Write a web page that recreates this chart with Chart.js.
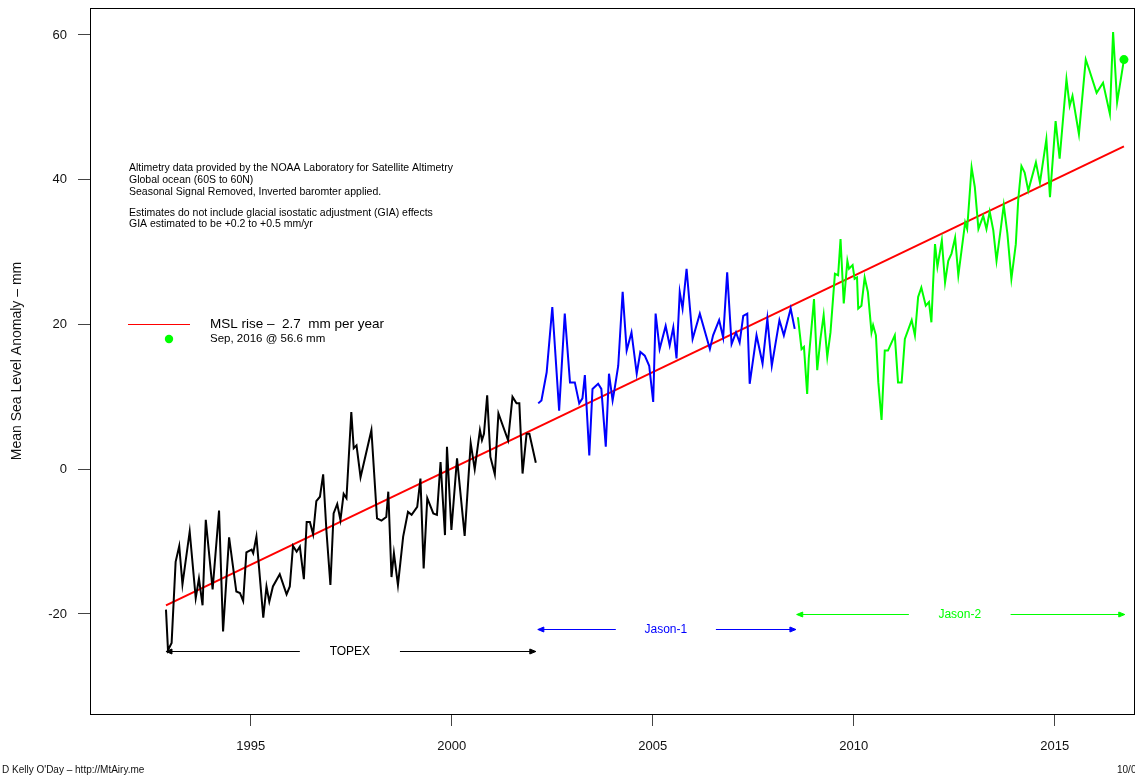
<!DOCTYPE html>
<html>
<head>
<meta charset="utf-8">
<script src="https://cdn.jsdelivr.net/npm/chart.js@4/dist/chart.umd.min.js"></script>
<style>
  html, body { margin: 0; padding: 0; background: #fff; }
  #wrap { position: relative; width: 1135px; height: 781px; overflow: hidden; }
</style>
</head>
<body>
<div id="wrap"><canvas id="mslChart" width="1135" height="781"></canvas></div>
<script>
// TOPEX (1993 - 2002)
const topexYears = [1992.89, 1992.94, 1993.03, 1993.13, 1993.22, 1993.30, 1993.48, 1993.63, 1993.71, 1993.80,
  1993.88, 1994.05, 1994.21, 1994.31, 1994.46, 1994.64, 1994.73, 1994.81, 1994.89, 1995.02,
  1995.06, 1995.14, 1995.31, 1995.39, 1995.46, 1995.55, 1995.72, 1995.89, 1995.97, 1996.05,
  1996.14, 1996.22, 1996.32, 1996.39, 1996.47, 1996.55, 1996.63, 1996.72, 1996.80, 1996.88,
  1996.98, 1997.06, 1997.15, 1997.23, 1997.31, 1997.38, 1997.50, 1997.56, 1997.63, 1997.73,
  1998.00, 1998.14, 1998.25, 1998.37, 1998.42, 1998.50, 1998.56, 1998.66, 1998.79, 1998.91,
  1999.00, 1999.14, 1999.22, 1999.30, 1999.39, 1999.54, 1999.63, 1999.72, 1999.83, 1999.88,
  1999.99, 2000.13, 2000.32, 2000.47, 2000.57, 2000.70, 2000.75, 2000.80, 2000.88, 2000.96,
  2001.07, 2001.16, 2001.40, 2001.51, 2001.61, 2001.68, 2001.76, 2001.86, 2001.93, 2002.09];
const topexMm = [-19.4, -25.0, -24.0, -12.8, -10.6, -15.9, -8.6, -17.8, -15.1, -18.8,
  -7.0, -16.6, -5.7, -22.4, -9.4, -16.9, -17.1, -18.2, -11.5, -11.1,
  -11.6, -9.3, -20.5, -16.2, -18.3, -16.2, -14.5, -17.3, -16.2, -10.6,
  -11.4, -10.7, -15.2, -7.3, -7.3, -9.0, -4.4, -3.8, -0.7, -8.4,
  -16.0, -6.1, -4.8, -7.0, -3.4, -4.0, 7.9, 2.9, 3.3, -1.1,
  5.4, -6.8, -7.1, -6.6, -3.1, -14.9, -11.6, -16.0, -9.3, -5.9,
  -6.3, -5.2, -1.3, -13.7, -4.0, -6.1, -6.3, 1.0, -9.1, 3.1,
  -8.4, 1.5, -9.2, 3.6, 0.0, 5.4, 4.0, 4.9, 10.2, 1.7,
  -0.7, 7.7, 4.0, 10.0, 9.1, 9.1, -0.6, 4.9, 4.9, 0.9];

// Jason-1 (2002 - 2008)
const jason1Years = [2002.15, 2002.23, 2002.36, 2002.50, 2002.67, 2002.81, 2002.94, 2003.06, 2003.17, 2003.25,
  2003.31, 2003.42, 2003.50, 2003.64, 2003.72, 2003.83, 2003.91, 2004.00, 2004.05, 2004.14,
  2004.25, 2004.35, 2004.47, 2004.60, 2004.69, 2004.80, 2004.91, 2005.01, 2005.07, 2005.17,
  2005.32, 2005.42, 2005.51, 2005.59, 2005.67, 2005.74, 2005.84, 2005.99, 2006.17, 2006.42,
  2006.50, 2006.65, 2006.75, 2006.85, 2006.96, 2007.07, 2007.16, 2007.25, 2007.35, 2007.41,
  2007.58, 2007.73, 2007.85, 2007.96, 2008.15, 2008.26, 2008.43, 2008.53];
const jason1Mm = [9.1, 9.5, 13.4, 22.4, 8.1, 21.5, 12.0, 12.0, 9.1, 9.8,
  13.0, 1.9, 11.1, 11.8, 11.1, 3.1, 13.2, 9.5, 11.1, 14.3,
  24.5, 16.4, 18.9, 13.2, 16.2, 15.7, 14.3, 9.3, 21.5, 16.6,
  19.8, 17.1, 19.6, 15.3, 24.5, 22.2, 27.7, 18.0, 21.5, 16.6,
  18.5, 20.6, 18.2, 27.2, 17.3, 18.9, 17.5, 21.2, 21.5, 11.8,
  18.5, 14.6, 20.8, 14.3, 20.6, 18.5, 22.2, 19.4];

// Jason-2 (2008 - 2016)
const jason2Years = [2008.61, 2008.70, 2008.76, 2008.84, 2008.88, 2009.01, 2009.09, 2009.17, 2009.25, 2009.34,
  2009.42, 2009.53, 2009.61, 2009.67, 2009.75, 2009.84, 2009.88, 2009.97, 2010.02, 2010.08,
  2010.11, 2010.19, 2010.27, 2010.35, 2010.44, 2010.48, 2010.55, 2010.61, 2010.69, 2010.77,
  2010.85, 2011.02, 2011.10, 2011.19, 2011.27, 2011.44, 2011.52, 2011.60, 2011.68, 2011.79,
  2011.87, 2011.93, 2011.97, 2012.02, 2012.08, 2012.19, 2012.27, 2012.35, 2012.43, 2012.52,
  2012.60, 2012.77, 2012.82, 2012.93, 2013.01, 2013.10, 2013.22, 2013.30, 2013.38, 2013.47,
  2013.55, 2013.65, 2013.73, 2013.82, 2013.92, 2014.03, 2014.09, 2014.17, 2014.25, 2014.34,
  2014.53, 2014.63, 2014.79, 2014.88, 2015.02, 2015.12, 2015.29, 2015.37, 2015.44, 2015.60,
  2015.77, 2015.85, 2016.04, 2016.20, 2016.37, 2016.45, 2016.55, 2016.72];
const jason2Mm = [21.0, 16.6, 16.9, 10.4, 15.3, 23.5, 13.7, 18.0, 21.3, 15.5,
  18.9, 27.0, 26.8, 31.8, 22.9, 28.8, 27.7, 28.2, 26.3, 26.5,
  22.2, 22.6, 26.5, 24.5, 18.9, 19.9, 18.5, 12.0, 6.8, 16.4,
  16.4, 18.5, 12.0, 12.0, 18.0, 20.6, 18.5, 23.8, 25.1, 22.6,
  23.1, 20.3, 25.4, 31.1, 28.0, 31.6, 25.8, 28.8, 29.8, 32.0,
  26.8, 34.1, 33.2, 41.7, 39.0, 33.2, 35.0, 33.2, 35.6, 33.0,
  28.8, 33.0, 36.5, 32.6, 26.3, 31.1, 37.2, 41.9, 41.0, 38.5,
  42.4, 39.6, 45.6, 37.6, 48.1, 42.9, 53.9, 50.2, 51.6, 46.3,
  56.6, 55.3, 52.0, 53.4, 49.1, 60.4, 50.7, 56.6];

// linear trend end points, 2.7 mm/yr
const trendYears = [1992.89, 2016.72];
const trendMm = [-18.8, 44.6];

// latest reading
const latestYear = [2016.72];
const latestMm = [56.6];

// mission span arrows: [start, gapStart, gapEnd, end], level (mm)
const missionNames = ['TOPEX', 'Jason-1', 'Jason-2'];
const missionSpans = [[1992.89, 1996.22, 1998.71, 2002.09], [2002.14, 2004.08, 2006.57, 2008.56], [2008.58, 2011.37, 2013.90, 2016.74]];
const missionLevels = [-25.1, -22.1, -20.0];
const missionColors = ['#000000', '#0000ff', '#00ff00'];

const xTicks = [1995, 2000, 2005, 2010, 2015];
const yTicks = [-20, 0, 20, 40, 60];

const noteLines = [
  'Altimetry data provided by the NOAA Laboratory for Satellite Altimetry',
  'Global ocean (60S to 60N)',
  'Seasonal Signal Removed, Inverted baromter applied.',
  'Estimates do not include glacial isostatic adjustment (GIA) effects',
  'GIA estimated to be +0.2 to +0.5 mm/yr'
];

const FONT = '"Liberation Sans", Arial, Helvetica, sans-serif';

const pts = (xs, ys) => xs.map((x, i) => ({ x: x, y: ys[i] }));

function drawArrowHead(ctx, x, y, dir) {
  // small closed head like R's arrows()
  const len = 6;
  ctx.beginPath();
  ctx.moveTo(x + dir * len, y - 2.5);
  ctx.lineTo(x, y);
  ctx.lineTo(x + dir * len, y + 2.5);
  ctx.closePath();
  ctx.fill();
  ctx.stroke();
}

// extra text, box and mission arrows
const extrasPlugin = {
  id: 'extras',
  afterDatasetsDraw(chart) {
    const ctx = chart.ctx;
    const xs = chart.scales.x;
    const ys = chart.scales.y;
    const area = chart.chartArea;
    ctx.save();

    // plot box
    ctx.strokeStyle = '#000';
    ctx.lineWidth = 1;
    ctx.strokeRect(Math.round(area.left) + 0.5, Math.round(area.top) + 0.5,
      Math.round(area.right - area.left), Math.round(area.bottom - area.top));

    // mission arrows
    missionNames.forEach((name, i) => {
      const s = missionSpans[i];
      const y = Math.round(ys.getPixelForValue(missionLevels[i])) + 0.5;
      const x0 = xs.getPixelForValue(s[0]);
      const g0 = xs.getPixelForValue(s[1]);
      const g1 = xs.getPixelForValue(s[2]);
      const x1 = xs.getPixelForValue(s[3]);
      ctx.strokeStyle = missionColors[i];
      ctx.fillStyle = missionColors[i];
      ctx.lineWidth = 1;
      ctx.beginPath();
      ctx.moveTo(x0, y); ctx.lineTo(g0, y);
      ctx.moveTo(g1, y); ctx.lineTo(x1, y);
      ctx.stroke();
      drawArrowHead(ctx, x0, y, 1);
      drawArrowHead(ctx, x1, y, -1);
      ctx.font = '12px ' + FONT;
      ctx.textAlign = 'center';
      ctx.textBaseline = 'middle';
      ctx.fillText(name, (g0 + g1) / 2, y);
    });

    // notes block
    ctx.fillStyle = '#000';
    ctx.textAlign = 'left';
    ctx.textBaseline = 'middle';
    ctx.font = '10.5px ' + FONT;
    const noteY = [168, 180, 192, 213, 224];
    noteLines.forEach((t, i) => ctx.fillText(t, 129, noteY[i]));

    // legend
    ctx.strokeStyle = '#ff0000';
    ctx.lineWidth = 1;
    ctx.beginPath();
    ctx.moveTo(128, 324.5); ctx.lineTo(190, 324.5);
    ctx.stroke();
    ctx.fillStyle = '#00ff00';
    ctx.beginPath();
    ctx.arc(169, 339, 4.2, 0, Math.PI * 2);
    ctx.fill();
    ctx.fillStyle = '#000';
    ctx.font = '13.5px ' + FONT;
    ctx.fillText('MSL rise \u2013  2.7  mm per year', 210, 324);
    ctx.font = '11.5px ' + FONT;
    ctx.fillText('Sep, 2016 @ 56.6 mm', 210, 339);

    // y axis title
    ctx.save();
    ctx.translate(17, (area.top + area.bottom) / 2);
    ctx.rotate(-Math.PI / 2);
    ctx.textAlign = 'center';
    ctx.font = '14px ' + FONT;
    ctx.fillStyle = '#111';
    ctx.fillText('Mean Sea Level Anomaly \u2013 mm', 0, 0);
    ctx.restore();

    // credits
    ctx.font = '10px ' + FONT;
    ctx.fillStyle = '#111';
    ctx.textAlign = 'left';
    ctx.fillText('D Kelly O\'Day \u2013 http://MtAiry.me', 2, 770);
    ctx.fillText('10/05/2016', 1117, 770);

    ctx.restore();
  }
};

const lineDs = (data, color) => ({
  data: data,
  borderColor: color,
  borderWidth: 2,
  pointRadius: 0,
  tension: 0,
  fill: false
});

const tickFont = { family: FONT, size: 13 };

new Chart(document.getElementById('mslChart'), {
  type: 'line',
  data: {
    datasets: [
      lineDs(pts(topexYears, topexMm), '#000000'),
      lineDs(pts(jason1Years, jason1Mm), '#0000ff'),
      lineDs(pts(jason2Years, jason2Mm), '#00ff00'),
      lineDs(pts(trendYears, trendMm), '#ff0000'),
      {
        data: pts(latestYear, latestMm),
        showLine: false,
        pointRadius: 4.5,
        pointBackgroundColor: '#00ff00',
        pointBorderColor: '#00ff00',
        pointBorderWidth: 0
      }
    ]
  },
  options: {
    responsive: false,
    animation: false,
    layout: { autoPadding: false, padding: { top: 8, right: 1, left: 0, bottom: 0 } },
    plugins: { legend: { display: false }, tooltip: { enabled: false } },
    scales: {
      x: {
        type: 'linear',
        min: 1991,
        max: 2016.97,
        afterBuildTicks: s => { s.ticks = xTicks.map(v => ({ value: v })); },
        afterFit: s => { s.height = 67; s.paddingLeft = 0; s.paddingRight = 0; },
        border: { display: false },
        grid: { drawOnChartArea: false, drawTicks: true, tickLength: 12, color: '#444' },
        ticks: { font: tickFont, color: '#111', padding: 13, maxRotation: 0, callback: v => String(v) }
      },
      y: {
        min: -33.82,
        max: 63.73,
        afterBuildTicks: s => { s.ticks = yTicks.map(v => ({ value: v })); },
        afterFit: s => { s.width = 90; s.paddingTop = 0; s.paddingBottom = 0; },
        border: { display: false },
        grid: { drawOnChartArea: false, drawTicks: true, tickLength: 12, color: '#444' },
        ticks: { font: tickFont, color: '#111', padding: 11, callback: v => String(v) }
      }
    }
  },
  plugins: [extrasPlugin]
});
</script>
</body>
</html>
